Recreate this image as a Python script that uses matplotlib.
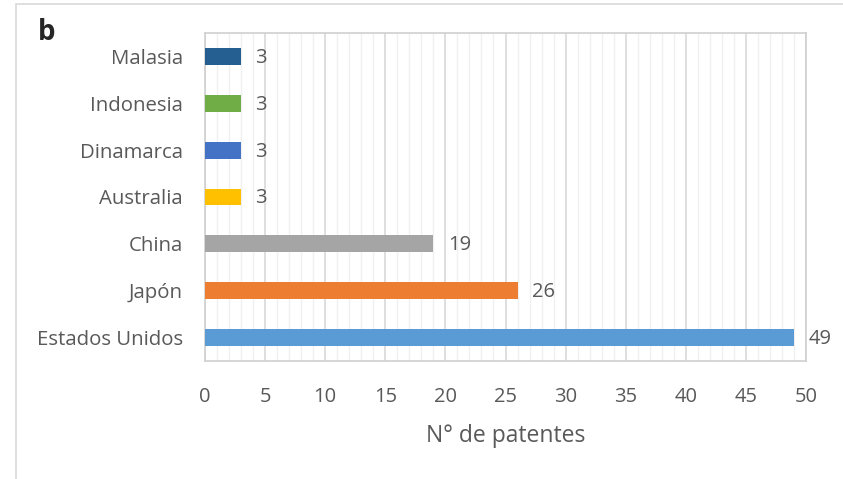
import matplotlib.pyplot as plt
from matplotlib.ticker import MultipleLocator
from matplotlib.patches import Rectangle

paises = ["Estados Unidos", "Japón", "China", "Australia", "Dinamarca", "Indonesia", "Malasia"]
patentes = [49, 26, 19, 3, 3, 3, 3]
colores = ["#5B9BD5", "#ED7D31", "#A5A5A5", "#FFC000", "#4472C4", "#70AD47", "#255E91"]

plt.rcParams['font.family'] = ['Open Sans', 'DejaVu Sans']
gris = "#595959"

fig = plt.figure(figsize=(8.43, 4.79), dpi=100)
ax = fig.add_axes([205/843, 1 - 361/479, (806-205)/843, (361-33)/479])

y = range(len(paises))
ax.barh(y, patentes, height=0.36, color=colores, zorder=3)
for yi, v in zip(y, patentes):
    ax.text(v + 1.2, yi - 0.03, str(v), va='center', ha='left', fontsize=14.5, color=gris)

ax.set_xlim(0, 50)
ax.set_ylim(-0.5, len(paises) - 0.5)
ax.set_yticks(list(y))
ax.set_yticklabels(paises, fontsize=14.7, color=gris)
ax.xaxis.set_major_locator(MultipleLocator(5))
ax.xaxis.set_minor_locator(MultipleLocator(1))
ax.tick_params(axis='x', which='both', length=0, labelsize=14.5, colors=gris, pad=19)
ax.tick_params(axis='y', length=0, pad=16)
ax.grid(axis='x', which='major', color='#D9D9D9', linewidth=1.2, zorder=0)
ax.grid(axis='x', which='minor', color='#F0F0F0', linewidth=1.0, zorder=0)
for s in ax.spines.values():
    s.set_color('#D0D0D0')
    s.set_linewidth(1.2)
ax.set_xlabel("N° de patentes", fontsize=16.5, color=gris, labelpad=12)

fig.text(38/843, 1 - 32/479, "b", fontsize=20, fontweight='bold', color='#262626', va='center', ha='left')

# marco exterior
fig.add_artist(Rectangle((16/843, -0.1), 1.2, 1 - 4/479 + 0.1, transform=fig.transFigure,
                         fill=False, edgecolor='#D9D9D9', linewidth=1.2))

fig.savefig("out.png", dpi=100)
